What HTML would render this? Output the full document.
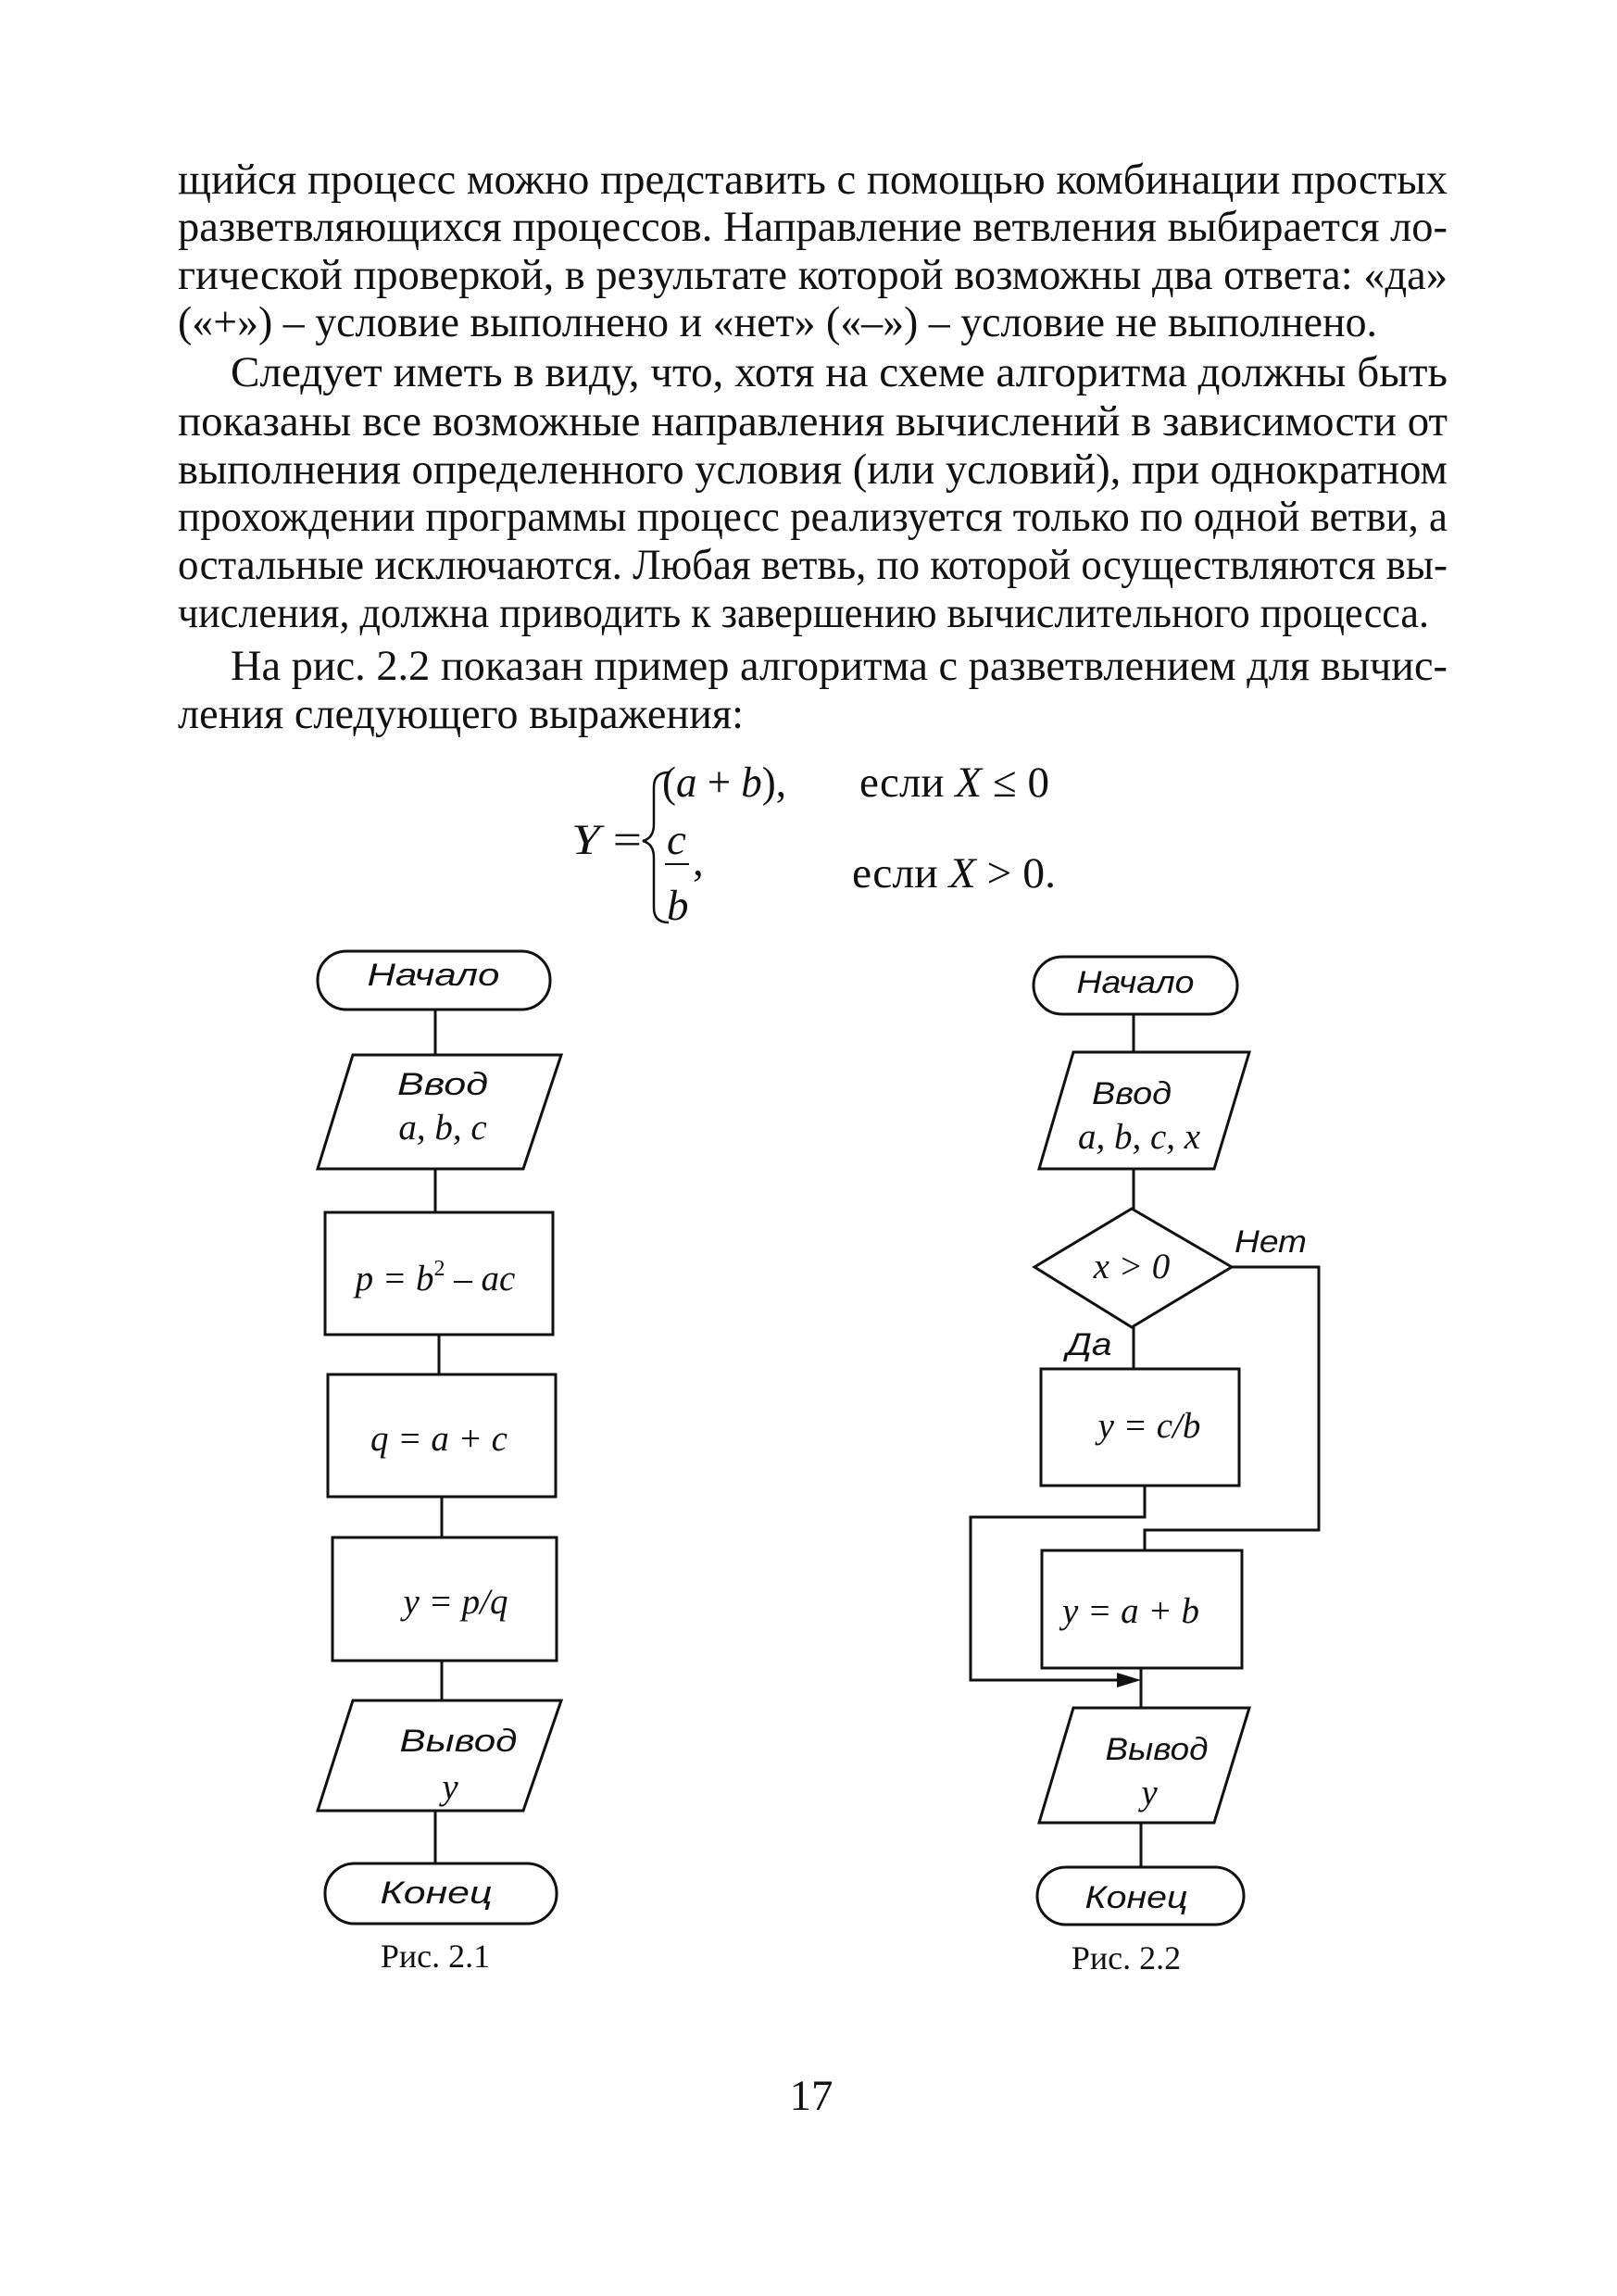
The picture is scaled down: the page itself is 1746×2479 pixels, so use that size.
<!DOCTYPE html>
<html><head><meta charset="utf-8"><style>
html,body{margin:0;padding:0;background:#fff;}
svg{display:block;}
.t{font-family:"Liberation Serif","Times New Roman",serif;font-size:47px;fill:#111;}
.s{font-family:"Liberation Sans",sans-serif;font-style:italic;font-size:34px;fill:#111;}
.m{font-family:"Liberation Serif",serif;font-style:italic;font-size:39px;fill:#111;}
.n{font-family:"Liberation Serif",serif;font-size:36px;fill:#111;}
.l{fill:none;stroke:#111;stroke-width:3;}
</style></head><body>
<svg width="1746" height="2479" viewBox="0 0 1746 2479" xmlns="http://www.w3.org/2000/svg">
<rect width="1746" height="2479" fill="#fff"/>
<g class="t">
<text x="192" y="209" textLength="1371" lengthAdjust="spacingAndGlyphs">щийся процесс можно представить с помощью комбинации простых</text>
<text x="192" y="260" textLength="1371" lengthAdjust="spacingAndGlyphs">разветвляющихся процессов. Направление ветвления выбирается ло-</text>
<text x="192" y="312" textLength="1371" lengthAdjust="spacingAndGlyphs">гической проверкой, в результате которой возможны два ответа: «да»</text>
<text x="192" y="363" textLength="1295" lengthAdjust="spacingAndGlyphs">(«+») – условие выполнено и «нет» («–») – условие не выполнено.</text>
<text x="249" y="417" textLength="1314" lengthAdjust="spacingAndGlyphs">Следует иметь в виду, что, хотя на схеме алгоритма должны быть</text>
<text x="192" y="470" textLength="1371" lengthAdjust="spacingAndGlyphs">показаны все возможные направления вычислений в зависимости от</text>
<text x="192" y="522" textLength="1371" lengthAdjust="spacingAndGlyphs">выполнения определенного условия (или условий), при однократном</text>
<text x="192" y="573" textLength="1371" lengthAdjust="spacingAndGlyphs">прохождении программы процесс реализуется только по одной ветви, а</text>
<text x="192" y="625" textLength="1371" lengthAdjust="spacingAndGlyphs">остальные исключаются. Любая ветвь, по которой осуществляются вы-</text>
<text x="192" y="677" textLength="1351" lengthAdjust="spacingAndGlyphs">числения, должна приводить к завершению вычислительного процесса.</text>
<text x="249" y="734" textLength="1314" lengthAdjust="spacingAndGlyphs">На рис. 2.2 показан пример алгоритма с разветвлением для вычис-</text>
<text x="192" y="786" textLength="611" lengthAdjust="spacingAndGlyphs">ления следующего выражения:</text>
</g>
<!-- formula -->
<g class="t">
<text x="617" y="922" textLength="76" lengthAdjust="spacingAndGlyphs"><tspan font-style="italic">Y</tspan> =</text>
<text x="715" y="860" textLength="134" lengthAdjust="spacingAndGlyphs">(<tspan font-style="italic">a</tspan> + <tspan font-style="italic">b</tspan>),</text>
<text x="928" y="860" textLength="205" lengthAdjust="spacingAndGlyphs">если <tspan font-style="italic">X</tspan> ≤ 0</text>
<text x="720" y="922" font-style="italic">c</text>
<line x1="718" y1="933" x2="744" y2="933" stroke="#111" stroke-width="2"/>
<text x="748" y="945">,</text>
<text x="720" y="993" font-style="italic">b</text>
<text x="920" y="958" textLength="220" lengthAdjust="spacingAndGlyphs">если <tspan font-style="italic">X</tspan> &gt; 0.</text>
</g>
<path d="M722 834 Q706 834 706 850 L706 890 Q706 905 694 908 Q706 911 706 926 L706 980 Q706 996 722 996" fill="none" stroke="#111" stroke-width="2.5"/>

<!-- chart 1 -->
<g class="l">
<rect x="343" y="1027" width="251" height="63" rx="31"/>
<line x1="470" y1="1090" x2="470" y2="1139"/>
<polygon points="381,1139 606,1139 565,1262 343,1262"/>
<line x1="470" y1="1262" x2="470" y2="1309"/>
<rect x="351" y="1309" width="246" height="132"/>
<line x1="474" y1="1441" x2="474" y2="1484"/>
<rect x="354" y="1484" width="246" height="132"/>
<line x1="477" y1="1616" x2="477" y2="1660"/>
<rect x="359" y="1660" width="242" height="133"/>
<line x1="477" y1="1793" x2="477" y2="1836"/>
<polygon points="381,1836 606,1836 565,1955 343,1955"/>
<line x1="470" y1="1955" x2="470" y2="2012"/>
<rect x="351" y="2012" width="250" height="65" rx="32"/>
</g>
<text class="s" x="468" y="1064" text-anchor="middle" textLength="143" lengthAdjust="spacingAndGlyphs">Начало</text>
<text class="s" x="478" y="1182" text-anchor="middle" textLength="98" lengthAdjust="spacingAndGlyphs">Ввод</text>
<text class="m" x="478" y="1230" text-anchor="middle">a, b, c</text>
<text class="m" x="470" y="1393" text-anchor="middle">p = b<tspan font-size="24" dy="-16" font-style="normal">2</tspan><tspan dy="16"> – ac</tspan></text>
<text class="m" x="474" y="1566" text-anchor="middle">q = a + c</text>
<text class="m" x="492" y="1742" text-anchor="middle">y = p/q</text>
<text class="s" x="495" y="1891" text-anchor="middle" textLength="127" lengthAdjust="spacingAndGlyphs">Вывод</text>
<text class="m" x="486" y="1942" text-anchor="middle">y</text>
<text class="s" x="471" y="2055" text-anchor="middle" textLength="121" lengthAdjust="spacingAndGlyphs">Конец</text>
<text class="n" x="470" y="2124" text-anchor="middle">Рис. 2.1</text>

<!-- chart 2 -->
<g class="l">
<rect x="1116" y="1033" width="220" height="62" rx="31"/>
<line x1="1224" y1="1095" x2="1224" y2="1136"/>
<polygon points="1159,1136 1349,1136 1311,1262 1122,1262"/>
<line x1="1224" y1="1262" x2="1224" y2="1305"/>
<polygon points="1222,1305 1330,1368 1222,1433 1117,1368"/>
<line x1="1224" y1="1433" x2="1224" y2="1478"/>
<rect x="1124" y="1478" width="214" height="126"/>
<polyline points="1330,1368 1424,1368 1424,1652 1236,1652 1236,1674"/>
<polyline points="1236,1604 1236,1638 1048,1638 1048,1814 1215,1814"/>
<rect x="1125" y="1674" width="216" height="127"/>
<line x1="1232" y1="1801" x2="1232" y2="1844"/>
<polygon points="1159,1844 1349,1844 1311,1968 1122,1968"/>
<line x1="1232" y1="1968" x2="1232" y2="2016"/>
<rect x="1120" y="2016" width="223" height="62" rx="31"/>
</g>
<polygon points="1232,1814 1206,1806 1206,1822" fill="#111"/>
<text class="s" x="1226" y="1072" text-anchor="middle" textLength="127" lengthAdjust="spacingAndGlyphs">Начало</text>
<text class="s" x="1222" y="1192" text-anchor="middle" textLength="86" lengthAdjust="spacingAndGlyphs">Ввод</text>
<text class="m" x="1230" y="1240" text-anchor="middle">a, b, c, x</text>
<text class="m" x="1222" y="1380" text-anchor="middle">x &gt; 0</text>
<text class="s" x="1372" y="1352" text-anchor="middle" textLength="78" lengthAdjust="spacingAndGlyphs">Нет</text>
<text class="s" x="1176" y="1463" text-anchor="middle" textLength="49" lengthAdjust="spacingAndGlyphs">Да</text>
<text class="m" x="1241" y="1552" text-anchor="middle">y = c/b</text>
<text class="m" x="1221" y="1752" text-anchor="middle">y = a + b</text>
<text class="s" x="1249" y="1900" text-anchor="middle" textLength="111" lengthAdjust="spacingAndGlyphs">Вывод</text>
<text class="m" x="1241" y="1948" text-anchor="middle">y</text>
<text class="s" x="1227" y="2060" text-anchor="middle" textLength="111" lengthAdjust="spacingAndGlyphs">Конец</text>
<text class="n" x="1216" y="2126" text-anchor="middle">Рис. 2.2</text>

<text class="t" x="876" y="2278" text-anchor="middle" font-size="42">17</text>
</svg>
</body></html>
